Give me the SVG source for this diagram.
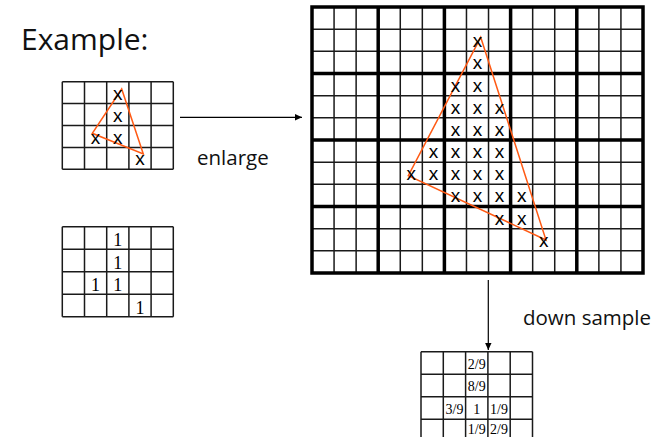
<svg xmlns="http://www.w3.org/2000/svg" width="660" height="437" viewBox="0 0 660 437">
<style>
.lbl{font-family:"Open Sans","Noto Sans",sans-serif;fill:#111}
.x{font-family:"Liberation Sans",Arial,sans-serif;font-size:19px;fill:#000;text-anchor:middle}
.num{font-family:"Liberation Serif","Times New Roman",serif;fill:#000;text-anchor:middle}
.thin{stroke:#1a1a1a;stroke-width:1.5;fill:none}
.thick{stroke:#000;stroke-width:3.5;fill:none;stroke-linecap:square}
.tri{stroke:#FF5A14;stroke-width:1.5;fill:none;stroke-linejoin:miter}
.conn{stroke:#000;stroke-width:1.2;fill:none}
</style>
<defs>
<marker id="ah" markerWidth="8" markerHeight="8" refX="7" refY="4" orient="auto" markerUnits="userSpaceOnUse">
<path d="M0,0.8 L7,4 L0,7.2 Z" fill="#000"/>
</marker>
</defs>
<rect width="660" height="437" fill="#fff"/>

<text class="lbl" x="21" y="50" font-size="30">Example:</text>

<g id="small-grid-x">
<path class="thin" d="M62.3,81.7V169.3M84.5,81.7V169.3M106.7,81.7V169.3M128.9,81.7V169.3M151.1,81.7V169.3M173.3,81.7V169.3M62.3,81.7H173.3M62.3,103.6H173.3M62.3,125.5H173.3M62.3,147.4H173.3M62.3,169.3H173.3"/>
<polygon class="tri" points="121.7,89 92.3,133.3 143.3,154"/>
<text class="x" x="117.8" y="99.7">x</text>
<text class="x" x="117.8" y="121.6">x</text>
<text class="x" x="95.6" y="143.5">x</text>
<text class="x" x="117.8" y="143.5">x</text>
<text class="x" x="140" y="165.4">x</text>
</g>

<g id="small-grid-ones">
<path class="thin" d="M62.3,226.7V316.7M84.5,226.7V316.7M106.7,226.7V316.7M128.9,226.7V316.7M151.1,226.7V316.7M173.3,226.7V316.7M62.3,226.7H173.3M62.3,249.2H173.3M62.3,271.7H173.3M62.3,294.2H173.3M62.3,316.7H173.3"/>
<text class="num" font-size="18" x="117.8" y="246.2">1</text>
<text class="num" font-size="18" x="117.8" y="268.7">1</text>
<text class="num" font-size="18" x="95.6" y="291.2">1</text>
<text class="num" font-size="18" x="117.8" y="291.2">1</text>
<text class="num" font-size="18" x="140" y="313.7">1</text>
</g>

<g id="big-grid">
<path class="thin" d="M334.07,7V273M356.13,7V273M400.27,7V273M422.33,7V273M466.47,7V273M488.53,7V273M532.67,7V273M554.73,7V273M598.87,7V273M620.93,7V273M312,29.17H643M312,51.33H643M312,95.67H643M312,117.83H643M312,162.17H643M312,184.33H643M312,228.67H643M312,250.83H643"/>
<path class="thick" d="M312,7V273M378.2,7V273M444.4,7V273M510.6,7V273M576.8,7V273M643,7V273M312,7H643M312,73.5H643M312,140H643M312,206.5H643M312,273H643"/>
<polygon class="tri" points="480.7,37.3 408.3,175.7 546,240"/>
<text class="x" x="477.5" y="47.2">x</text>
<text class="x" x="477.5" y="69.3">x</text>
<text class="x" x="455.5" y="91.5">x</text>
<text class="x" x="477.5" y="91.5">x</text>
<text class="x" x="455.5" y="113.7">x</text>
<text class="x" x="477.5" y="113.7">x</text>
<text class="x" x="499.6" y="113.7">x</text>
<text class="x" x="455.5" y="135.8">x</text>
<text class="x" x="477.5" y="135.8">x</text>
<text class="x" x="499.6" y="135.8">x</text>
<text class="x" x="433.4" y="158">x</text>
<text class="x" x="455.5" y="158">x</text>
<text class="x" x="477.5" y="158">x</text>
<text class="x" x="499.6" y="158">x</text>
<text class="x" x="411.3" y="180.2">x</text>
<text class="x" x="433.4" y="180.2">x</text>
<text class="x" x="455.5" y="180.2">x</text>
<text class="x" x="477.5" y="180.2">x</text>
<text class="x" x="499.6" y="180.2">x</text>
<text class="x" x="455.5" y="202.3">x</text>
<text class="x" x="477.5" y="202.3">x</text>
<text class="x" x="499.6" y="202.3">x</text>
<text class="x" x="521.7" y="202.3">x</text>
<text class="x" x="499.6" y="224.5">x</text>
<text class="x" x="521.7" y="224.5">x</text>
<text class="x" x="543.7" y="246.7">x</text>
</g>

<g id="down-grid">
<path class="thin" d="M421,351.7V441.7M443.3,351.7V441.7M465.6,351.7V441.7M487.9,351.7V441.7M510.2,351.7V441.7M532.5,351.7V441.7M421,351.7H532.5M421,374.2H532.5M421,396.7H532.5M421,419.2H532.5M421,441.7H532.5"/>
<text class="num" font-size="14" x="476.75" y="368.7">2/9</text>
<text class="num" font-size="14" x="476.75" y="391.2">8/9</text>
<text class="num" font-size="14" x="454.45" y="413.7">3/9</text>
<text class="num" font-size="14" x="476.75" y="413.7">1</text>
<text class="num" font-size="14" x="499.05" y="413.7">1/9</text>
<text class="num" font-size="14" x="476.75" y="433.5">1/9</text>
<text class="num" font-size="14" x="499.05" y="433.5">2/9</text>
</g>

<g id="connectors">
<line class="conn" x1="180" y1="117.3" x2="302" y2="117.3" marker-end="url(#ah)"/>
<line class="conn" x1="488.3" y1="280" x2="488.3" y2="350" marker-end="url(#ah)"/>
<text class="lbl" x="197" y="165" font-size="20.5">enlarge</text>
<text class="lbl" x="523" y="325" font-size="20.5">down sample</text>
</g>
</svg>
